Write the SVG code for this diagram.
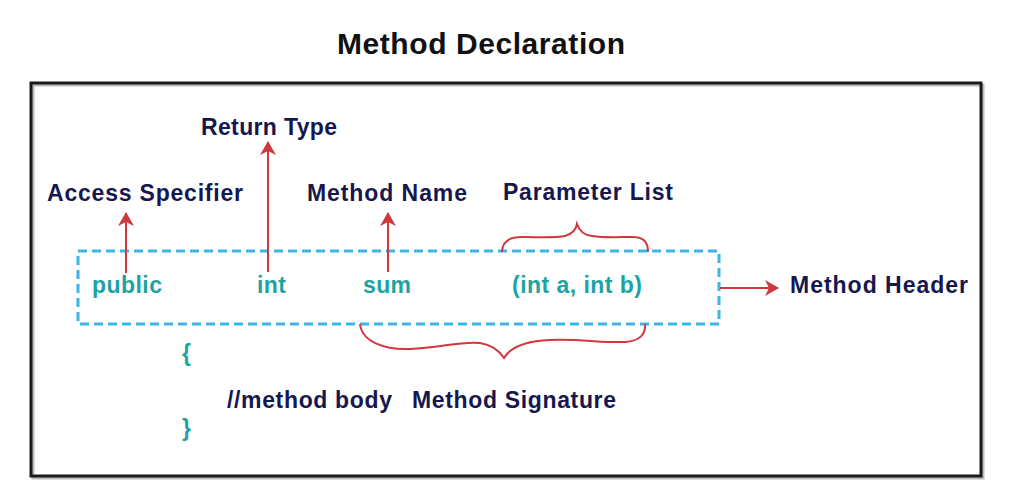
<svg xmlns="http://www.w3.org/2000/svg" width="1011" height="487" viewBox="0 0 1011 487">
<style>
.lbl{font-family:"Liberation Sans",Arial,sans-serif;font-weight:bold;font-size:23px;fill:#17174f}
.code{font-family:"Liberation Sans",Arial,sans-serif;font-weight:bold;font-size:23px;fill:#1ea3a3}
.title{font-family:"Liberation Sans",Arial,sans-serif;font-weight:bold;font-size:30px;fill:#111}
.arrow{stroke:#d0383e;stroke-width:2;fill:none}
.brace{stroke:#d0383e;stroke-width:2;fill:none}
</style>
<defs>
<marker id="ah" viewBox="0 0 14 16" refX="13" refY="8" markerWidth="14" markerHeight="16" markerUnits="userSpaceOnUse" orient="auto">
<path d="M0,0 L14,8 L0,16 L4,8 Z" fill="#d0383e"/>
</marker>
</defs>
<rect width="1011" height="487" fill="#fff"/>
<g id="frame">
<rect x="33" y="85" width="950" height="393" fill="none" stroke="#bbb" stroke-width="3"/>
<rect x="31" y="83" width="950" height="393" fill="none" stroke="#1a1a1a" stroke-width="3"/>
</g>
<g id="title"><text class="title" x="337" y="54" textLength="288" lengthAdjust="spacing">Method Declaration</text></g>
<g id="header-box"><rect x="78" y="251" width="641" height="73" fill="none" stroke="#3fb4e6" stroke-width="3" stroke-dasharray="9 5"/></g>
<g id="return-type"><text class="lbl" x="201" y="135" textLength="136" lengthAdjust="spacing">Return Type</text></g>
<g id="access-specifier"><text class="lbl" x="47" y="201" textLength="196" lengthAdjust="spacing">Access Specifier</text></g>
<g id="method-name"><text class="lbl" x="307" y="201" textLength="160" lengthAdjust="spacing">Method Name</text></g>
<g id="parameter-list"><text class="lbl" x="503" y="200" textLength="170" lengthAdjust="spacing">Parameter List</text></g>
<g id="public"><text class="code" x="92" y="293" textLength="70" lengthAdjust="spacing">public</text></g>
<g id="int"><text class="code" x="257" y="293" textLength="29" lengthAdjust="spacing">int</text></g>
<g id="sum"><text class="code" x="363" y="293" textLength="48" lengthAdjust="spacing">sum</text></g>
<g id="params"><text class="code" x="512" y="293" textLength="130" lengthAdjust="spacing">(int a, int b)</text></g>
<g id="method-header"><text class="lbl" x="790" y="293" textLength="178" lengthAdjust="spacing">Method Header</text></g>
<g id="open-brace"><text class="code" x="182" y="361">{</text></g>
<g id="method-body"><text class="lbl" x="227" y="408" textLength="165" lengthAdjust="spacing">//method body</text></g>
<g id="method-signature"><text class="lbl" x="412" y="408" textLength="204" lengthAdjust="spacing">Method Signature</text></g>
<g id="close-brace"><text class="code" x="182" y="436">}</text></g>
<g id="connectors">
<line class="arrow" x1="126" y1="273" x2="126" y2="213" marker-end="url(#ah)"/>
<line class="arrow" x1="268" y1="272" x2="268" y2="142" marker-end="url(#ah)"/>
<line class="arrow" x1="388" y1="272" x2="388" y2="213" marker-end="url(#ah)"/>
<line class="arrow" x1="720" y1="288" x2="778" y2="288" marker-end="url(#ah)"/>
<path class="brace" d="M502,252 C502,242 508,237 522,237 C540,237 555,238 565,236 C572,234 576,229 577,224 C579,230 583,235 592,236 C605,238 620,237 632,237 C644,237 648,242 648,252"/>
<path class="brace" d="M360,324 C362,342 385,350 410,349 C440,348 460,341 480,343 C493,345 500,352 504,358 C510,348 525,341 550,340 C580,339 605,343 625,342 C640,341 646,334 645,324"/>
</g>
</svg>
